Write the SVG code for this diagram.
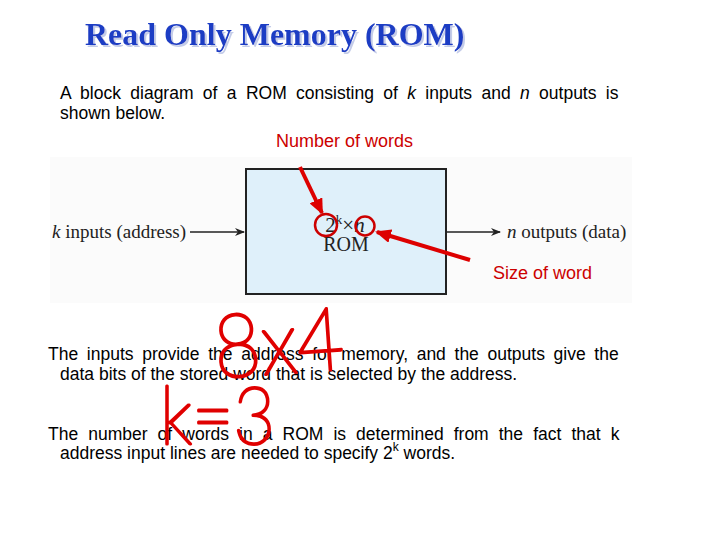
<svg xmlns="http://www.w3.org/2000/svg" width="720" height="540" viewBox="0 0 720 540">
<style>
.body{font-family:"Liberation Sans",Arial,sans-serif;font-size:17.5px;fill:#000}
.red{font-family:"Liberation Sans",Arial,sans-serif;font-size:18px;fill:#cc0000}
.serif{font-family:"Liberation Serif","Times New Roman",serif;font-size:19px;fill:#222}
.hand{font-family:Lato,"DejaVu Sans",sans-serif;font-weight:100;fill:#e00000;stroke:#e00000;stroke-width:3;stroke-linejoin:round}
</style>
<defs>
<filter id="sh" x="-5%" y="-20%" width="110%" height="150%">
<feOffset in="SourceAlpha" dx="2" dy="2" result="o"/>
<feFlood flood-color="#c4cce8"/>
<feComposite in2="o" operator="in" result="s"/>
<feMerge><feMergeNode in="s"/><feMergeNode in="SourceGraphic"/></feMerge>
</filter>
<marker id="ah" markerWidth="10" markerHeight="8" refX="9" refY="4" orient="auto" markerUnits="userSpaceOnUse">
<path d="M0,0 L10,4 L0,8 L3,4 Z" fill="#222"/>
</marker>
<marker id="rh" markerWidth="16" markerHeight="14" refX="14" refY="7" orient="auto" markerUnits="userSpaceOnUse">
<path d="M0,0 L16,7 L0,14 Z" fill="#dd0000"/>
</marker>
</defs>
<rect width="720" height="540" fill="#fff"/>
<text x="85" y="45" font-family="Liberation Serif,'Times New Roman',serif" font-weight="bold" font-size="32" fill="#1f3ec4" filter="url(#sh)">Read Only Memory (ROM)</text>
<text class="body" x="60" y="99" word-spacing="4.5">A block diagram of a ROM consisting of <tspan font-style="italic">k</tspan> inputs and <tspan font-style="italic">n</tspan> outputs is</text>
<text class="body" x="60" y="119">shown below.</text>
<text class="red" x="276" y="147">Number of words</text>
<rect x="50" y="157" width="582" height="146" fill="#fbfbfb"/>
<g id="rom">
<rect x="246" y="169" width="200" height="125" fill="#dff0fa" stroke="#222" stroke-width="2"/>
<text class="serif" x="345" y="232" text-anchor="middle" style="font-size:21px">2<tspan style="font-size:13px" dy="-8">k</tspan><tspan dy="8">×</tspan><tspan font-style="italic">n</tspan></text>
<text class="serif" x="346" y="251" text-anchor="middle" style="font-size:20px">ROM</text>
</g>
<g id="in"><text class="serif" x="52" y="238"><tspan font-style="italic">k</tspan> inputs (address)</text></g>
<g id="out"><text class="serif" x="507" y="238"><tspan font-style="italic">n</tspan> outputs (data)</text></g>
<g id="connectors">
<line x1="190" y1="232" x2="244" y2="232" stroke="#222" stroke-width="1.5" marker-end="url(#ah)"/>
<line x1="447" y1="232" x2="500" y2="232" stroke="#222" stroke-width="1.5" marker-end="url(#ah)"/>
<line x1="300" y1="167" x2="322" y2="213" stroke="#dd0000" stroke-width="4" marker-end="url(#rh)"/>
<line x1="470" y1="260" x2="377" y2="232" stroke="#dd0000" stroke-width="4" marker-end="url(#rh)"/>
</g>
<circle cx="326" cy="225" r="11" fill="none" stroke="#cc0000" stroke-width="2.5"/>
<circle cx="365" cy="226" r="9.5" fill="none" stroke="#cc0000" stroke-width="2.5"/>
<text class="red" x="493" y="279">Size of word</text>
<text class="body" x="48" y="360" word-spacing="3.8">The inputs provide the address for memory, and the outputs give the</text>
<text class="body" x="60" y="380">data bits of the stored word that is selected by the address.</text>
<text class="body" x="48" y="440" word-spacing="5.2">The number of words in a ROM is determined from the fact that k</text>
<text class="body" x="60" y="459">address input lines are needed to specify 2<tspan style="font-size:12px" dy="-8">k</tspan><tspan dy="8"> words.</tspan></text>
<text class="hand" x="216" y="378" font-size="88" textLength="130" lengthAdjust="spacingAndGlyphs" transform="rotate(-4 216 378)">8x4</text>
<text class="hand" x="160" y="444" font-size="80" textLength="115" lengthAdjust="spacingAndGlyphs">k=3</text>
</svg>
